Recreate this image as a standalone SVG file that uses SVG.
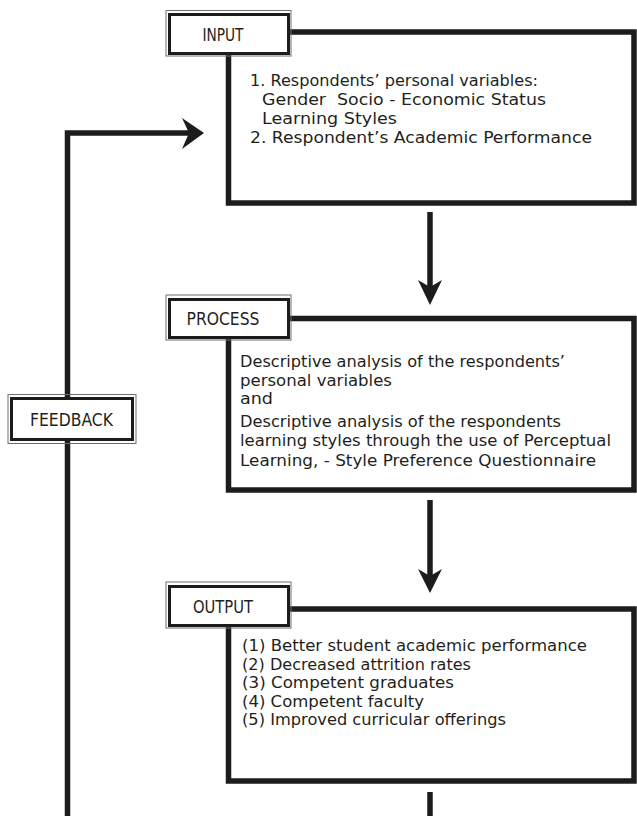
<svg xmlns="http://www.w3.org/2000/svg" width="637" height="816" viewBox="0 0 637 816">
<style>
.box{fill:#fff;stroke:#1e1b1c;stroke-width:5.5}
.tab{fill:#fff;stroke:#1e1b1c;stroke-width:3}
.tabo{fill:none;stroke:#6e6e6e;stroke-width:1}
.lbl{font-family:"DejaVu Sans","Liberation Sans",sans-serif;font-size:17px;fill:#231f20;text-anchor:middle}
.txt{font-family:"DejaVu Sans","Liberation Sans",sans-serif;font-size:16.5px;fill:#231f20}
.ln{fill:none;stroke:#1e1b1c;stroke-width:5.5}
.head{fill:#1e1b1c}
</style>
<rect width="637" height="816" fill="#fff"/>
<g id="connectors">
<path class="ln" d="M67.5,816 V133 H190"/>
<polygon class="head" points="182,118 204,133 182,149 189,133"/>
<path class="ln" d="M430,212 V288"/>
<polygon class="head" points="418,280 430,287 442,280 430,305"/>
<path class="ln" d="M430,500 V577"/>
<polygon class="head" points="418,569 430,576 442,569 430,593"/>
<path class="ln" d="M430,792 V816"/>
</g>
<g id="input">
<rect class="box" x="228.5" y="32" width="405.5" height="171"/>
<rect class="tabo" x="166" y="10.5" width="125" height="45.5"/>
<rect class="tab" x="169.5" y="14.5" width="119" height="39"/>
<text class="lbl" x="223" y="40.5" textLength="41" lengthAdjust="spacingAndGlyphs">INPUT</text>
<text class="txt" x="250" y="86" textLength="288" lengthAdjust="spacingAndGlyphs">1. Respondents’ personal variables:</text>
<text class="txt" x="262" y="105" xml:space="preserve" textLength="284" lengthAdjust="spacingAndGlyphs">Gender  Socio - Economic Status</text>
<text class="txt" x="262" y="124" textLength="135" lengthAdjust="spacingAndGlyphs">Learning Styles</text>
<text class="txt" x="250" y="143" textLength="342" lengthAdjust="spacingAndGlyphs">2. Respondent’s Academic Performance</text>
</g>
<g id="process">
<rect class="box" x="228.5" y="318.5" width="405.5" height="171.5"/>
<rect class="tabo" x="166" y="295" width="125" height="45"/>
<rect class="tab" x="169.5" y="299.5" width="119" height="38"/>
<text class="lbl" x="223" y="324.5" textLength="73" lengthAdjust="spacingAndGlyphs">PROCESS</text>
<text class="txt" x="240" y="367" textLength="325" lengthAdjust="spacingAndGlyphs">Descriptive analysis of the respondents’</text>
<text class="txt" x="240" y="386" textLength="152" lengthAdjust="spacingAndGlyphs">personal variables</text>
<text class="txt" x="240" y="404" textLength="33" lengthAdjust="spacingAndGlyphs">and</text>
<text class="txt" x="240" y="427" textLength="321" lengthAdjust="spacingAndGlyphs">Descriptive analysis of the respondents</text>
<text class="txt" x="240" y="446" textLength="371" lengthAdjust="spacingAndGlyphs">learning styles through the use of Perceptual</text>
<text class="txt" x="240" y="466" textLength="356" lengthAdjust="spacingAndGlyphs">Learning, - Style Preference Questionnaire</text>
</g>
<g id="output">
<rect class="box" x="228.5" y="609" width="405.5" height="172"/>
<rect class="tabo" x="166" y="582" width="125" height="46"/>
<rect class="tab" x="169.5" y="586.5" width="119" height="39"/>
<text class="lbl" x="223" y="612.5" textLength="60" lengthAdjust="spacingAndGlyphs">OUTPUT</text>
<text class="txt" x="242" y="651" textLength="345" lengthAdjust="spacingAndGlyphs">(1) Better student academic performance</text>
<text class="txt" x="242" y="669.5" textLength="229" lengthAdjust="spacingAndGlyphs">(2) Decreased attrition rates</text>
<text class="txt" x="242" y="688" textLength="212" lengthAdjust="spacingAndGlyphs">(3) Competent graduates</text>
<text class="txt" x="242" y="706.5" textLength="182" lengthAdjust="spacingAndGlyphs">(4) Competent faculty</text>
<text class="txt" x="242" y="725" textLength="264" lengthAdjust="spacingAndGlyphs">(5) Improved curricular offerings</text>
</g>
<g id="feedback">
<rect class="tabo" x="8" y="394.5" width="128" height="49"/>
<rect class="tab" x="11.5" y="398.5" width="121" height="41"/>
<text class="lbl" x="71.5" y="425.5" textLength="83" lengthAdjust="spacingAndGlyphs">FEEDBACK</text>
</g>
</svg>
